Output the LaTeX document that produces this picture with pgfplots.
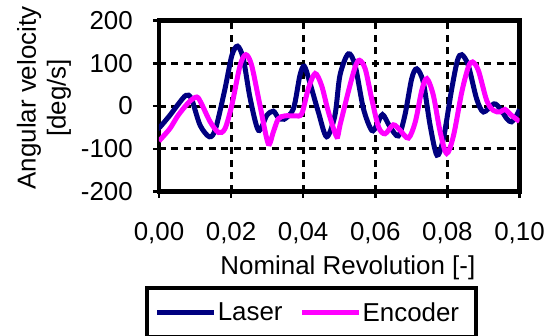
\documentclass[border=0pt]{standalone}
\usepackage{pgfplots}
\pgfplotsset{compat=1.18}
\usepackage{fontspec}
\setmainfont{Liberation Sans}
\definecolor{laser}{RGB}{0,0,128}
\definecolor{encoder}{RGB}{255,0,255}
\newcommand{\bigfont}{\fontsize{26}{30}\selectfont}
\begin{document}
\begin{tikzpicture}
\begin{axis}[
  name=ax,
  scale only axis,
  width=360.5bp, height=171bp,
  xmin=0, xmax=0.1, ymin=-200, ymax=200,
  xtick={0,0.02,0.04,0.06,0.08,0.1},
  xticklabels={{0,00},{0,02},{0,04},{0,06},{0,08},{0,10}},
  ytick={-200,-100,0,100,200},
  yticklabels={-200,-100,0,100,200},
  tick pos=left,
  tick align=outside,
  major tick length=6bp,
  tick style={line width=2.5bp, black},
  axis line style={line width=4.5bp, black},
  grid=major,
  major grid style={black, line width=3bp, dash pattern=on 7bp off 5.5bp},
  ticklabel style={font=\bigfont, inner sep=0pt},
  xticklabel style={anchor=north, yshift=-24.5bp},
  yticklabel style={anchor=east, xshift=-20bp},
  xlabel={Nominal Revolution [-]},
  xlabel style={font=\bigfont, at={(rel axis cs:0.524,-0.488)}, anchor=base, inner sep=0pt},
  legend columns=2,
  legend image code/.code={\draw[#1] (0bp,0bp) -- (57bp,0bp);},
  legend style={at={(rel axis cs:-0.04,-0.5526)}, anchor=north west, draw=black, line width=4.5bp,
    inner xsep=8bp, inner ysep=13bp, font=\bigfont,
    nodes={inner sep=1bp, text depth=0.2em},
    /tikz/every even column/.append style={column sep=16bp}},
]
\addplot[laser, line width=5bp, smooth] coordinates {
(0,-50) (0.0003,-49) (0.003,-22) (0.0054,5) (0.0075,25) (0.009,17) (0.0114,-45) (0.0140,-72) (0.0157,-53)
(0.0183,40) (0.0202,118) (0.0218,140) (0.0234,110) (0.0253,17) (0.0276,-57) (0.0299,-22) (0.0317,-12)
(0.0330,-26) (0.0347,-31) (0.0373,-6) (0.0391,72) (0.0403,93) (0.0418,56) (0.0442,-14) (0.0465,-72)
(0.0488,-22) (0.0502,72) (0.0525,122) (0.0544,95) (0.0567,-6) (0.0590,-57) (0.0604,-45) (0.0620,-20)
(0.0641,-49) (0.0664,-70) (0.0682,-22) (0.0701,64) (0.0715,87) (0.0733,56) (0.0752,-45) (0.0771,-115)
(0.0789,-76) (0.0812,40) (0.0828,107) (0.0840,120) (0.0858,95) (0.0881,17) (0.0900,-14) (0.0929,5)
(0.0946,-6) (0.0965,-30) (0.0978,-37) (0.0992,-22) (0.1,-8)
};
\addlegendentry{Laser}
\addplot[encoder, line width=5bp, smooth] coordinates {
(0,-82) (0.003,-53) (0.0053,-22) (0.0083,9) (0.0105,21) (0.0118,5) (0.0142,-37) (0.0165,-62) (0.0183,-53)
(0.0202,2) (0.0225,95) (0.0241,120) (0.0257,95) (0.0280,2) (0.0303,-88) (0.0317,-61) (0.0331,-30)
(0.0350,-23) (0.0377,-23) (0.0396,-18) (0.0414,40) (0.0433,76) (0.0451,48) (0.0470,-14) (0.0493,-72)
(0.0502,-45) (0.0525,33) (0.0544,91) (0.0556,107) (0.0572,87) (0.0590,17) (0.0609,-49) (0.0627,-65)
(0.0650,-44) (0.0669,-57) (0.0692,-75) (0.0711,-37) (0.0729,37) (0.0743,64) (0.0761,25) (0.0780,-61)
(0.0798,-111) (0.0817,-69) (0.0840,33) (0.0858,91) (0.0870,103) (0.0886,83) (0.0909,13) (0.0927,-10)
(0.0946,-14) (0.0960,-8) (0.0978,-22) (0.1,-36)
};
\addlegendentry{Encoder\hspace*{8bp}}
\end{axis}
\node[font=\bigfont, align=center, rotate=89.9, anchor=center, inner sep=0pt]
  at ([xshift=-115bp,yshift=93.5bp]ax.south west) {Angular velocity\\{[deg/s]}};
\pgfresetboundingbox
\path[use as bounding box] ([xshift=-159bp,yshift=-144.5bp]ax.south west) rectangle ++(552bp,336bp);
\end{tikzpicture}
\end{document}
